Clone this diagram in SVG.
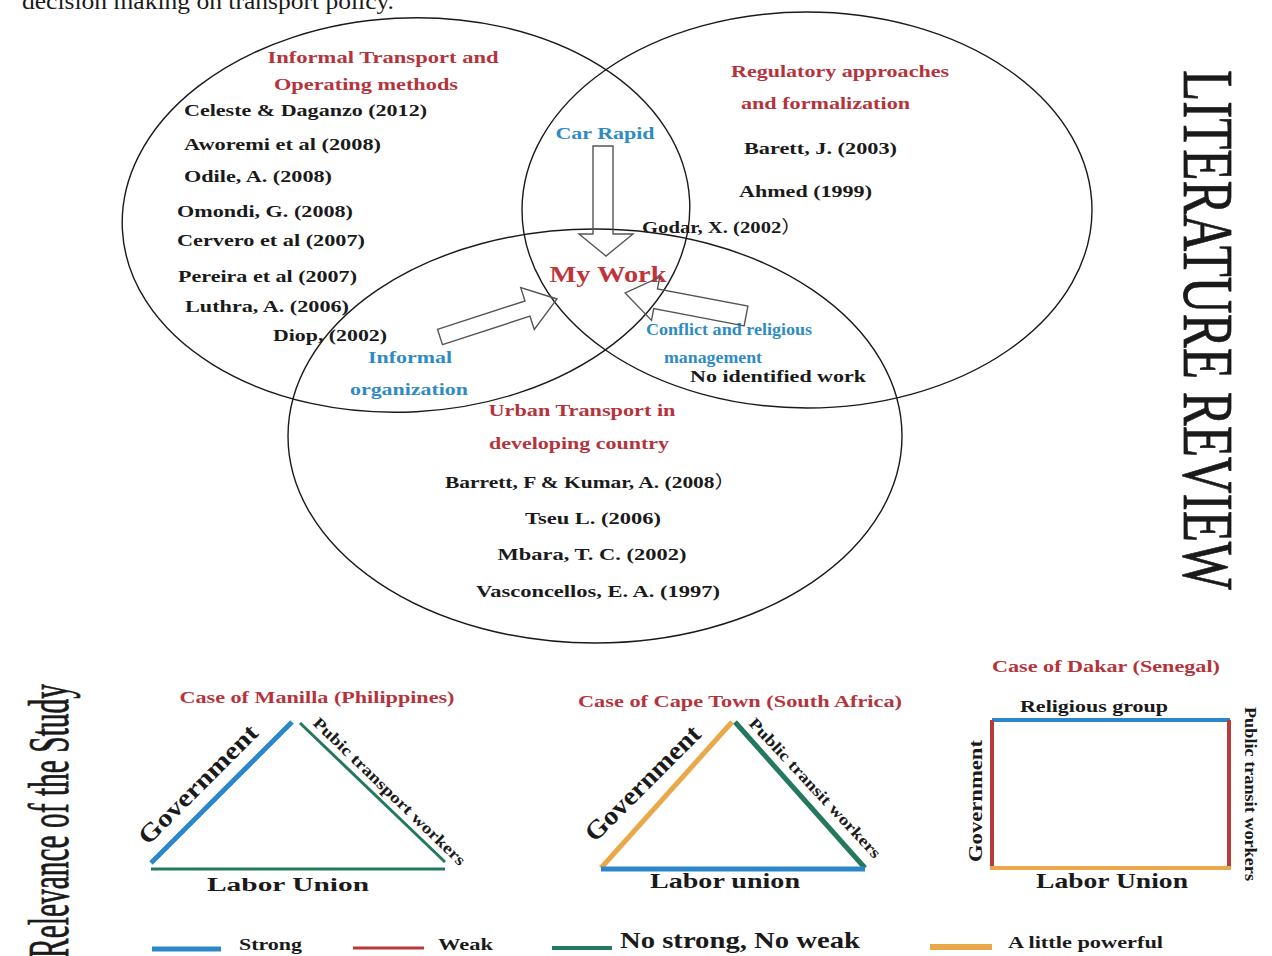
<svg xmlns="http://www.w3.org/2000/svg" width="1272" height="956" viewBox="0 0 1272 956">
<style>
text{font-family:"Liberation Serif","Times New Roman",serif;font-weight:bold}
.r{fill:#b5343c;font-size:17px}
.k{fill:#1a1a1a;font-size:17.5px}
.b{fill:#2f8cc2;font-size:17px}
.ell{fill:none;stroke:#1a1a1a;stroke-width:1.4}
.arr{fill:none;stroke:#555;stroke-width:1.4;stroke-linejoin:miter}
.big{font-weight:normal;fill:#1a1a1a}
</style>
<rect width="1272" height="956" fill="#fff"/>
<text x="22" y="9" class="big" font-size="24" textLength="372" lengthAdjust="spacingAndGlyphs">decision making on transport policy.</text>

<g id="circle-informal">
<ellipse class="ell" cx="406" cy="215" rx="284" ry="197" transform="rotate(-3 406 215)"/>
<text class="r" x="383" y="63" text-anchor="middle" textLength="231" lengthAdjust="spacingAndGlyphs">Informal Transport and</text>
<text class="r" x="366" y="90" text-anchor="middle" textLength="184" lengthAdjust="spacingAndGlyphs">Operating methods</text>
<text class="k" x="184" y="116" textLength="243" lengthAdjust="spacingAndGlyphs">Celeste &amp; Daganzo (2012)</text>
<text class="k" x="184" y="150" textLength="197" lengthAdjust="spacingAndGlyphs">Aworemi et al (2008)</text>
<text class="k" x="184" y="182" textLength="148" lengthAdjust="spacingAndGlyphs">Odile, A. (2008)</text>
<text class="k" x="177" y="217" textLength="176" lengthAdjust="spacingAndGlyphs">Omondi, G. (2008)</text>
<text class="k" x="177" y="246" textLength="188" lengthAdjust="spacingAndGlyphs">Cervero et al (2007)</text>
<text class="k" x="178" y="282" textLength="179" lengthAdjust="spacingAndGlyphs">Pereira et al (2007)</text>
<text class="k" x="185" y="312" textLength="164" lengthAdjust="spacingAndGlyphs">Luthra, A. (2006)</text>
<text class="k" x="273" y="341" textLength="114" lengthAdjust="spacingAndGlyphs">Diop, (2002)</text>
</g>

<g id="circle-regulatory">
<ellipse class="ell" cx="807" cy="210" rx="285" ry="198"/>
<text class="r" x="731" y="77" textLength="218" lengthAdjust="spacingAndGlyphs">Regulatory approaches</text>
<text class="r" x="741" y="109" textLength="169" lengthAdjust="spacingAndGlyphs">and formalization</text>
<text class="k" x="744" y="154" textLength="153" lengthAdjust="spacingAndGlyphs">Barett, J. (2003)</text>
<text class="k" x="739" y="197" textLength="133" lengthAdjust="spacingAndGlyphs">Ahmed (1999)</text>
<text class="k" x="642" y="233" textLength="160" lengthAdjust="spacingAndGlyphs">Godar, X. (2002<tspan font-family="'Noto Sans CJK SC',sans-serif" font-weight="normal">）</tspan></text>
</g>

<g id="circle-urban">
<ellipse class="ell" cx="595" cy="436" rx="307" ry="207"/>
<text class="r" x="582" y="416" text-anchor="middle" textLength="187" lengthAdjust="spacingAndGlyphs">Urban Transport in</text>
<text class="r" x="579" y="449" text-anchor="middle" textLength="180" lengthAdjust="spacingAndGlyphs">developing country</text>
<text class="k" x="445" y="488" textLength="291" lengthAdjust="spacingAndGlyphs">Barrett, F &amp; Kumar, A. (2008<tspan font-family="'Noto Sans CJK SC',sans-serif" font-weight="normal">）</tspan></text>
<text class="k" x="593" y="524" text-anchor="middle" textLength="136" lengthAdjust="spacingAndGlyphs">Tseu L. (2006)</text>
<text class="k" x="592" y="560" text-anchor="middle" textLength="189" lengthAdjust="spacingAndGlyphs">Mbara, T. C. (2002)</text>
<text class="k" x="598" y="597" text-anchor="middle" textLength="244" lengthAdjust="spacingAndGlyphs">Vasconcellos, E. A. (1997)</text>
</g>

<g id="overlaps">
<text class="b" x="605" y="139" text-anchor="middle" textLength="99" lengthAdjust="spacingAndGlyphs">Car Rapid</text>
<text x="608" y="282" text-anchor="middle" fill="#c0343c" font-size="24" textLength="117" lengthAdjust="spacingAndGlyphs">My Work</text>
<text class="b" x="410" y="363" text-anchor="middle" textLength="84" lengthAdjust="spacingAndGlyphs">Informal</text>
<text class="b" x="409" y="395" text-anchor="middle" textLength="118" lengthAdjust="spacingAndGlyphs">organization</text>
<text class="b" x="646" y="335" font-size="14" textLength="166" lengthAdjust="spacingAndGlyphs">Conflict and religious</text>
<text class="b" x="713" y="363" font-size="14" text-anchor="middle" textLength="98" lengthAdjust="spacingAndGlyphs">management</text>
<text class="k" x="690" y="382" textLength="176" lengthAdjust="spacingAndGlyphs">No identified work</text>
</g>

<g id="connectors">
<polygon class="arr" points="593,146 613,146 613,234 633,234 606,256 579,234 593,234"/>
<polygon class="arr" transform="translate(440,337) rotate(-18)" points="0,-8 92,-8 92,-22 123,0 92,22 92,8 0,8"/>
<polygon class="arr" transform="translate(746,316) rotate(190.8)" points="0,-10 92,-10 92,-22 123,0 92,22 92,10 0,10"/>
</g>

<text class="big" transform="translate(1184,70) rotate(90)" font-size="72" stroke="#1a1a1a" stroke-width="0.8" textLength="520" lengthAdjust="spacingAndGlyphs">LITERATURE REVIEW</text>
<text class="big" transform="translate(68,958) rotate(-90)" font-size="57" stroke="#1a1a1a" stroke-width="0.8" textLength="274" lengthAdjust="spacingAndGlyphs">Relevance of the Study</text>

<g id="case-manilla">
<text class="r" x="317" y="703" text-anchor="middle" textLength="275" lengthAdjust="spacingAndGlyphs">Case of Manilla (Philippines)</text>
<line x1="151" y1="863" x2="292" y2="722" stroke="#2b87c9" stroke-width="5"/>
<line x1="300" y1="723" x2="445" y2="862" stroke="#24795c" stroke-width="3"/>
<line x1="151" y1="869" x2="445" y2="869" stroke="#24795c" stroke-width="3"/>
<text transform="translate(148,846) rotate(-45)" font-size="25" fill="#1a1a1a" textLength="158" lengthAdjust="spacingAndGlyphs">Government</text>
<text transform="translate(312,724) rotate(44)" font-size="16" fill="#1a1a1a" textLength="205" lengthAdjust="spacingAndGlyphs">Pubic transport workers</text>
<text x="288" y="891" text-anchor="middle" font-size="18" fill="#1a1a1a" textLength="162" lengthAdjust="spacingAndGlyphs">Labor Union</text>
</g>

<g id="case-capetown">
<text class="r" x="740" y="707" text-anchor="middle" textLength="324" lengthAdjust="spacingAndGlyphs">Case of Cape Town (South Africa)</text>
<line x1="601" y1="868" x2="732" y2="722" stroke="#e9a94a" stroke-width="5"/>
<line x1="735" y1="722" x2="865" y2="868" stroke="#24795c" stroke-width="5"/>
<line x1="601" y1="869" x2="865" y2="869" stroke="#2b87c9" stroke-width="5"/>
<text transform="translate(595,843) rotate(-45)" font-size="26" fill="#1a1a1a" textLength="152" lengthAdjust="spacingAndGlyphs">Government</text>
<text transform="translate(748,724) rotate(47)" font-size="16" fill="#1a1a1a" textLength="185" lengthAdjust="spacingAndGlyphs">Public transit workers</text>
<text x="725" y="888" text-anchor="middle" font-size="22" fill="#1a1a1a" textLength="150" lengthAdjust="spacingAndGlyphs">Labor union</text>
</g>

<g id="case-dakar">
<text class="r" x="1106" y="672" text-anchor="middle" textLength="228" lengthAdjust="spacingAndGlyphs">Case of Dakar (Senegal)</text>
<line x1="992" y1="720" x2="1230" y2="720" stroke="#2b87c9" stroke-width="4"/>
<line x1="992" y1="720" x2="992" y2="870" stroke="#b83b3b" stroke-width="4"/>
<line x1="1229" y1="720" x2="1229" y2="870" stroke="#b83b3b" stroke-width="4"/>
<line x1="990" y1="868" x2="1231" y2="868" stroke="#e9a94a" stroke-width="4"/>
<text x="1094" y="712" text-anchor="middle" font-size="17" fill="#1a1a1a" textLength="148" lengthAdjust="spacingAndGlyphs">Religious group</text>
<text transform="translate(982,862) rotate(-90)" font-size="18" fill="#1a1a1a" textLength="122" lengthAdjust="spacingAndGlyphs">Government</text>
<text transform="translate(1245,707) rotate(90)" font-size="17" fill="#1a1a1a" textLength="174" lengthAdjust="spacingAndGlyphs">Public transit workers</text>
<text x="1112" y="888" text-anchor="middle" font-size="22" fill="#1a1a1a" textLength="152" lengthAdjust="spacingAndGlyphs">Labor Union</text>
</g>

<g id="legend">
<line x1="152" y1="949" x2="221" y2="949" stroke="#2b87c9" stroke-width="5"/>
<text x="239" y="950" font-size="16" fill="#1a1a1a" textLength="63" lengthAdjust="spacingAndGlyphs">Strong</text>
<line x1="353" y1="948" x2="424" y2="948" stroke="#b83b3b" stroke-width="3"/>
<text x="438" y="950" font-size="16" fill="#1a1a1a" textLength="55" lengthAdjust="spacingAndGlyphs">Weak</text>
<line x1="552" y1="948" x2="612" y2="948" stroke="#24795c" stroke-width="4"/>
<text x="620" y="948" font-size="24" fill="#1a1a1a" textLength="240" lengthAdjust="spacingAndGlyphs">No strong, No weak</text>
<line x1="930" y1="947" x2="992" y2="947" stroke="#e9a94a" stroke-width="6"/>
<text x="1008" y="948" font-size="16" fill="#1a1a1a" textLength="155" lengthAdjust="spacingAndGlyphs">A little powerful</text>
</g>
</svg>
